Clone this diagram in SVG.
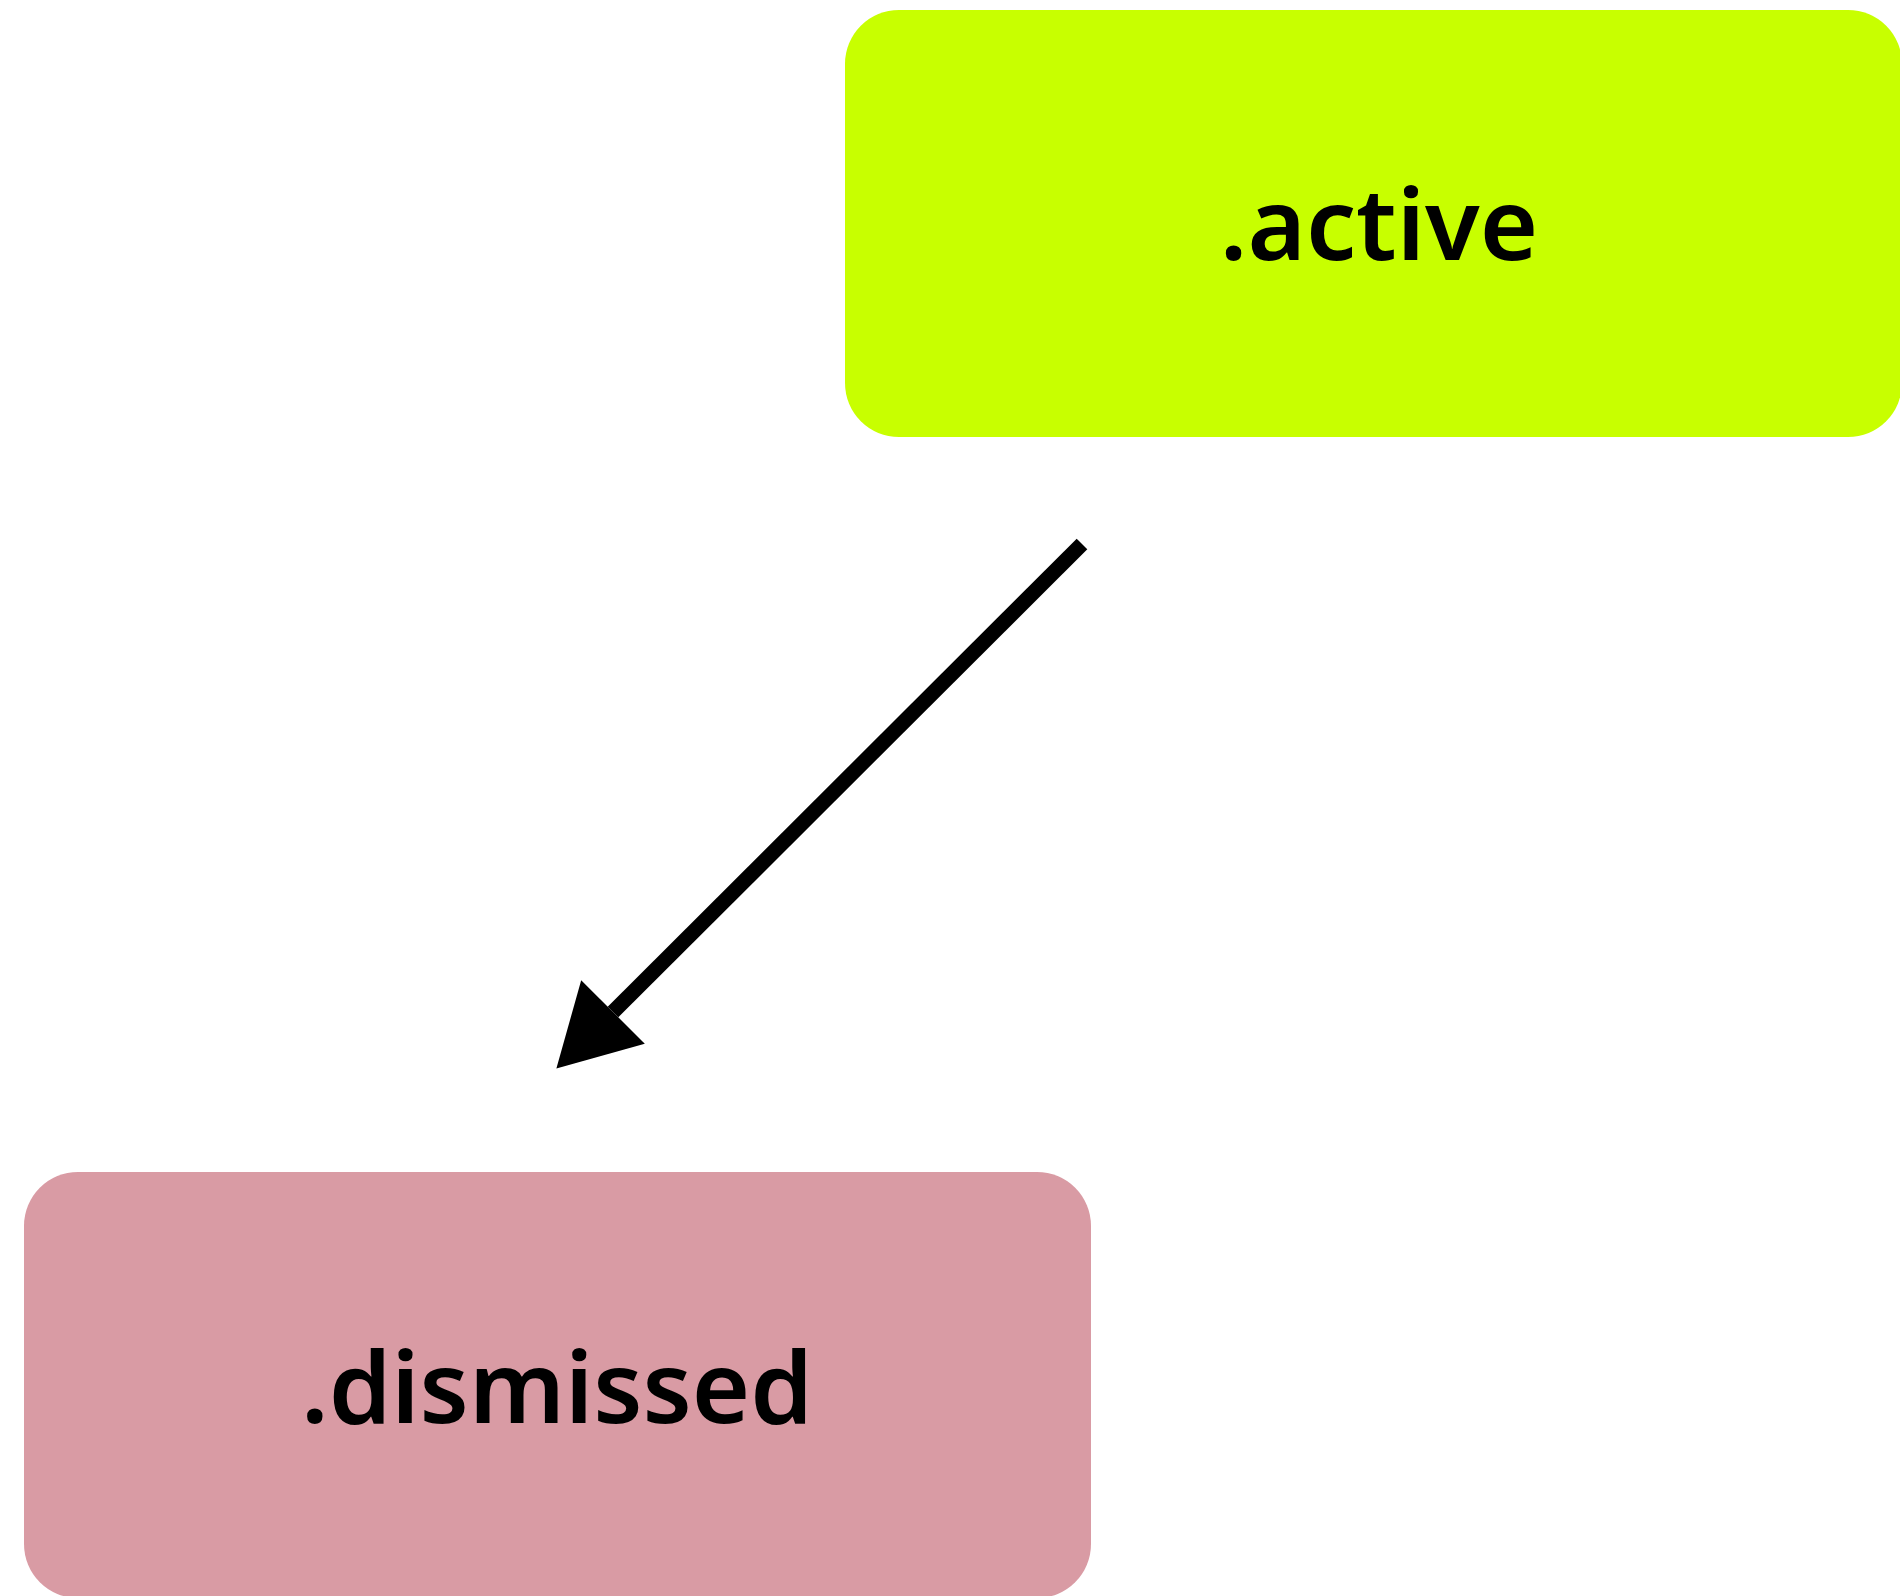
<svg xmlns="http://www.w3.org/2000/svg" width="1900" height="1596" viewBox="0 0 1900 1596">
<style>
.label{font-family:"Noto Sans","Open Sans",sans-serif;font-weight:600;font-size:100px;fill:#000;text-anchor:middle}
.edge{stroke:#000;stroke-width:15;fill:none}
</style>
<defs>
<marker id="arrow" markerUnits="userSpaceOnUse" markerWidth="100" markerHeight="100" refX="0" refY="0" orient="auto" viewBox="-5 -50 100 100" overflow="visible">
<path d="M0,-45 L80,0 L0,45 z" fill="#000"/>
</marker>
</defs>
<rect width="1900" height="1596" fill="#fff"/>
<g id="node-active">
<rect x="845" y="10" width="1057" height="427" rx="54" ry="54" fill="#C8FF00"/>
<text class="label" x="1379" y="260">.active</text>
</g>
<g id="node-dismissed">
<rect x="24" y="1172" width="1067" height="426" rx="54" ry="54" fill="#D99BA4"/>
<text class="label" x="557" y="1423">.dismissed</text>
</g>
<g id="connectors">
<line class="edge" x1="1082" y1="544" x2="613" y2="1012" marker-end="url(#arrow)"/>
</g>
</svg>
